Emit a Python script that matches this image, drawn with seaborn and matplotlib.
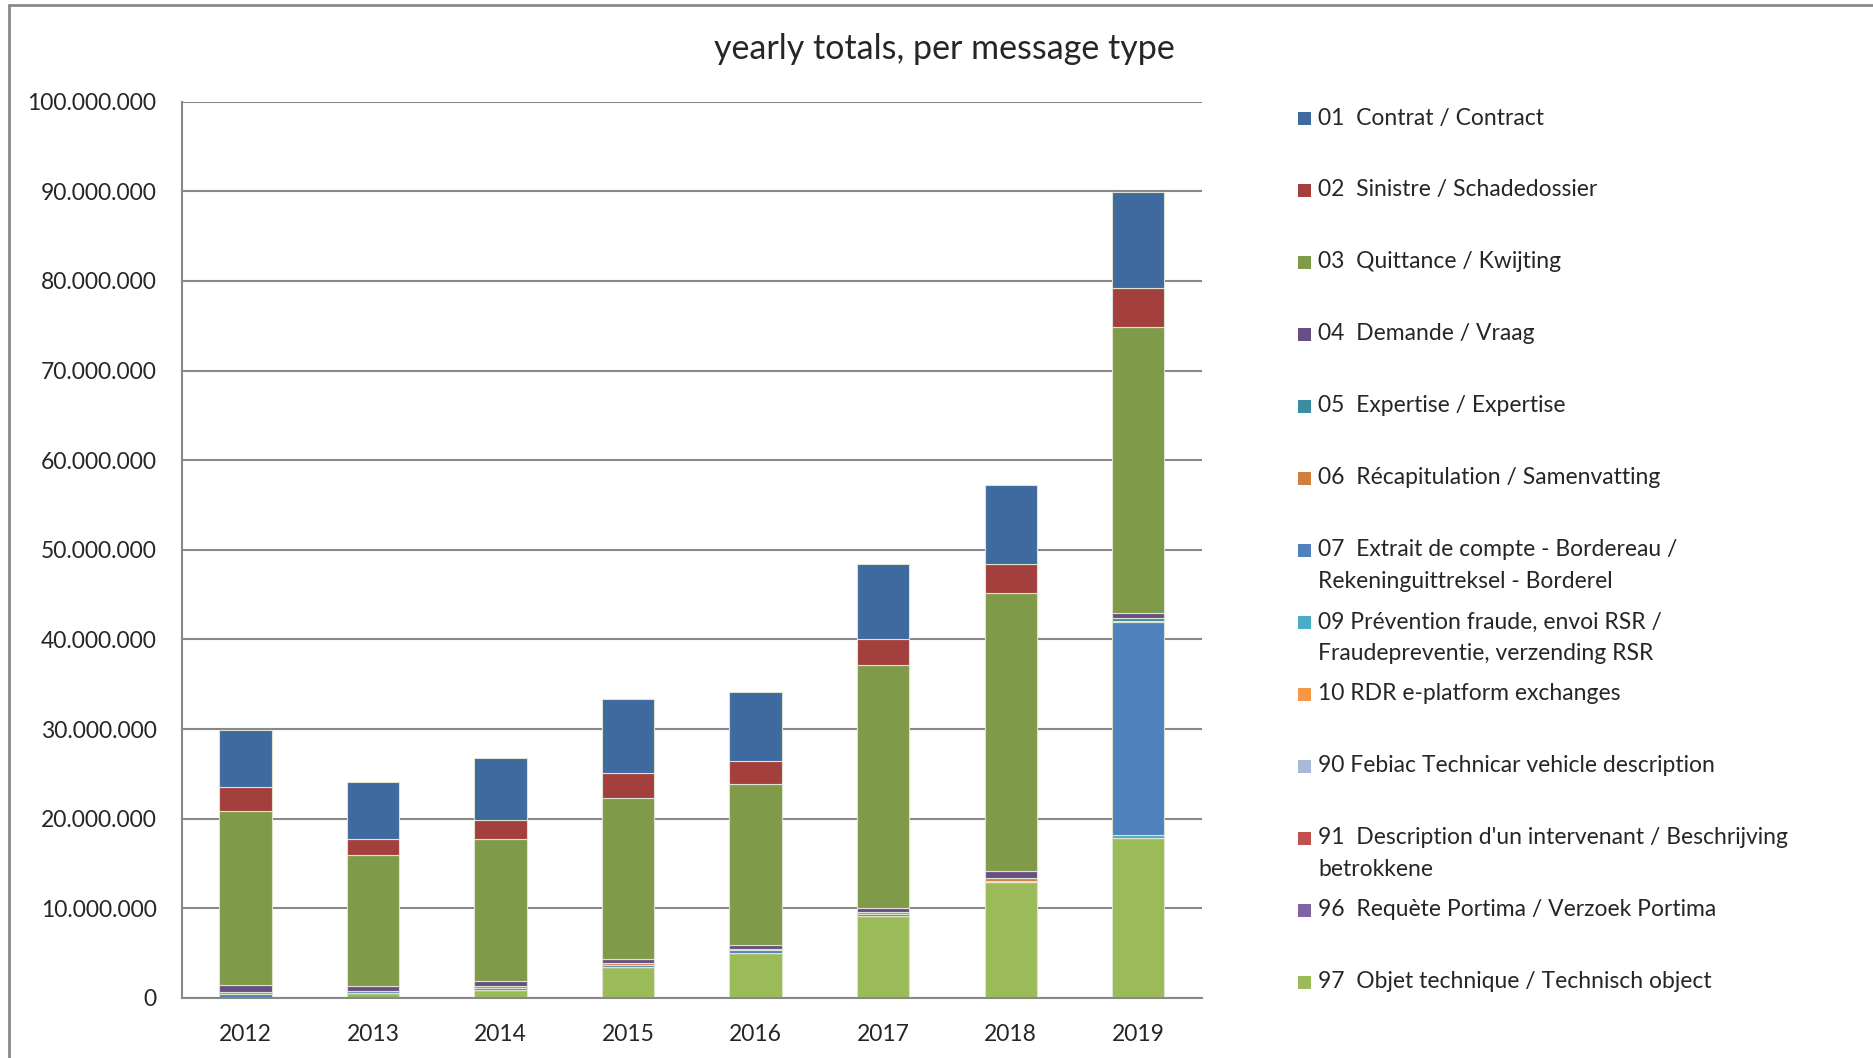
import numpy as np
import pandas as pd
import matplotlib
matplotlib.use("Agg")
import matplotlib.pyplot as plt
from matplotlib.patches import Rectangle
from matplotlib.lines import Line2D
from matplotlib.ticker import FuncFormatter, MultipleLocator, FixedLocator
import seaborn as sns

# data (millions of messages)
years = [2012, 2013, 2014, 2015, 2016, 2017, 2018, 2019]
s01 = [6.4, 6.3, 6.9, 8.2, 7.7, 8.4, 8.8, 10.7]
s02 = [2.6, 1.8, 2.2, 2.8, 2.5, 2.8, 3.3, 4.3]
s03 = [19.4, 14.6, 15.8, 18.0, 18.0, 27.2, 31.0, 31.9]
s04 = [0.8, 0.55, 0.6, 0.4, 0.45, 0.4, 0.8, 0.6]
s05 = [0, 0, 0, 0, 0, 0, 0, 0.3]
s06 = [0.25, 0.05, 0.2, 0.2, 0.1, 0.2, 0.25, 0.2]
s07 = [0.45, 0.2, 0.2, 0.2, 0.35, 0.2, 0.2, 23.7]
s09 = [0, 0, 0, 0, 0, 0, 0, 0.4]
s10 = [0, 0, 0, 0, 0, 0, 0, 0]
s90 = [0, 0, 0, 0, 0, 0, 0, 0]
s91 = [0, 0, 0, 0, 0, 0, 0, 0]
s96 = [0, 0, 0, 0, 0, 0, 0, 0]
s97 = [0, 0.55, 0.9, 3.5, 5.0, 9.2, 12.9, 17.8]

labels = [
    "01  Contrat / Contract",
    "02  Sinistre / Schadedossier",
    "03  Quittance / Kwijting",
    "04  Demande / Vraag",
    "05  Expertise / Expertise",
    "06  Récapitulation / Samenvatting",
    "07  Extrait de compte - Bordereau /\nRekeninguittreksel - Borderel",
    "09 Prévention fraude, envoi RSR /\nFraudepreventie, verzending RSR",
    "10 RDR e-platform exchanges",
    "90 Febiac Technicar vehicle description",
    "91  Description d'un intervenant / Beschrijving\nbetrokkene",
    "96  Requète Portima / Verzoek Portima",
    "97  Objet technique / Technisch object",
]
series = [s01, s02, s03, s04, s05, s06, s07, s09, s10, s90, s91, s96, s97]
colors = ["#3E6AA0", "#A3403E", "#7F9A48", "#674F85", "#3A8DA0", "#D07E3C",
          "#4F81BD", "#4BACC6", "#F79646", "#A9B9D8", "#C0504D", "#8064A2",
          "#9BBB59"]

rows = []
for lab, vals in zip(labels, series):
    for y, v in zip(years, vals):
        rows.append({"year": y, "type": lab, "count": v * 1e6})
df = pd.DataFrame(rows)

W, H = 1874, 1058
sns.set_style("white")
plt.rcParams["font.family"] = ["Lato", "DejaVu Sans"]

fig = plt.figure(figsize=(W / 100, H / 100), dpi=100)
ax = fig.add_axes([181.6 / W, 1 - 998 / H, (1202 - 181.6) / W, (998 - 101.6) / H])

# first hue level ends on top of the stack
sns.histplot(data=df, x="year", weights="count", hue="type", hue_order=labels,
             palette=dict(zip(labels, colors)), multiple="stack", discrete=True,
             shrink=0.41, alpha=1, edgecolor="#dde3d0", linewidth=0.8,
             legend=False, ax=ax)

ax.set_xlim(2011.5, 2019.5)
ax.set_ylim(0, 100e6)
ax.yaxis.set_major_locator(MultipleLocator(10e6))
ax.yaxis.set_major_formatter(FuncFormatter(lambda v, p: f"{v:,.0f}".replace(",", ".")))
ax.set_xticks(years)
ax.xaxis.set_minor_locator(FixedLocator(np.arange(2011.5, 2020, 1)))
ax.tick_params(axis="x", which="major", length=0, pad=19, labelsize=16.5)
ax.tick_params(axis="x", which="minor", length=9, width=1.5, color="#888888", direction="out")
ax.tick_params(axis="y", which="major", length=8, width=1.5, color="#888888",
               direction="out", labelsize=16.5, pad=10)
ax.grid(axis="y", color="#888888", linewidth=1.5)
ax.set_axisbelow(True)
for side in ["top", "right"]:
    ax.spines[side].set_visible(False)
for side in ["left", "bottom"]:
    ax.spines[side].set_color("#888888")
    ax.spines[side].set_linewidth(1.5)
ax.set_xlabel("")
ax.set_ylabel("")

fig.text(944 / W, 1 - 49 / H, "yearly totals, per message type", fontsize=24.5,
         ha="center", va="center")

# legend drawn by hand: fixed slot per entry like the original
lx, ty, step = 1298, 118, 72
for i, (lab, col) in enumerate(zip(labels, colors)):
    yc = ty + i * step
    fig.patches.append(Rectangle((lx / W, 1 - (yc + 6.5) / H), 13 / W, 13 / H,
                                 transform=fig.transFigure, facecolor=col,
                                 edgecolor="none"))
    for j, line in enumerate(lab.split("\n")):
        fig.text(1318 / W, 1 - (yc + j * 31) / H, line, fontsize=16.5,
                 ha="left", va="center")

# outer chart frame (top and left edges visible)
fig.add_artist(Line2D([9 / W, 1], [1 - 5 / H, 1 - 5 / H], transform=fig.transFigure,
                      color="#8a8a8a", linewidth=2))
fig.add_artist(Line2D([9 / W, 9 / W], [0, 1 - 5 / H], transform=fig.transFigure,
                      color="#8a8a8a", linewidth=2))

fig.savefig("out.png", dpi=100)
